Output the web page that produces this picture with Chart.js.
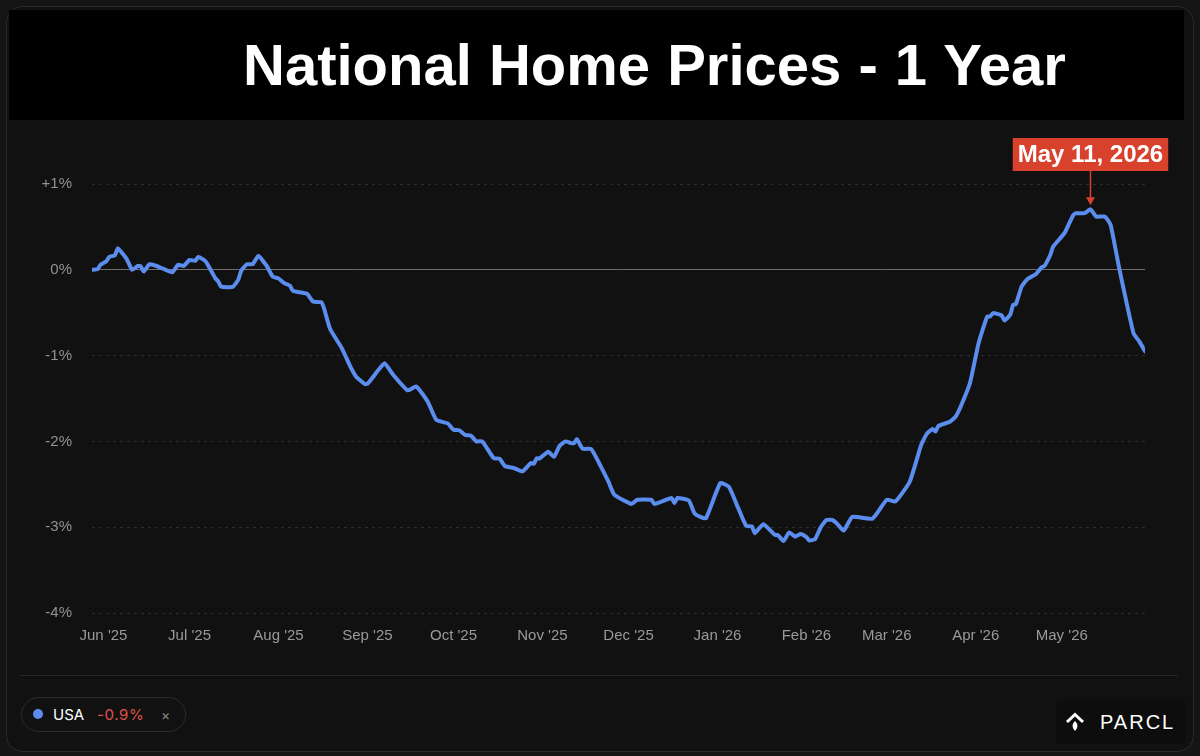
<!DOCTYPE html>
<html lang="en">
<head>
<meta charset="utf-8">
<title>National Home Prices - 1 Year</title>
<script src="https://cdn.jsdelivr.net/npm/chart.js@4.4.1/dist/chart.umd.min.js"></script>
<style>
  html, body { margin: 0; padding: 0; }
  body {
    width: 1200px; height: 756px; position: relative; overflow: hidden;
    background: #151515;
    font-family: "Liberation Sans", Arial, Helvetica, sans-serif;
  }
  #tarjeta {
    position: absolute; left: 6px; top: 6px; width: 1188px; height: 746px;
    box-sizing: border-box; border: 1px solid #2a2a2a; border-radius: 16px;
    background: #111111;
  }
  #banda { position: absolute; left: 9px; top: 10px; width: 1175px; height: 110px; background: #000; }
  #titulo {
    position: absolute; left: 243px; top: 36px; font-size: 58px; font-weight: bold; line-height: 1;
    color: #fff; white-space: nowrap; word-spacing: 1px;
  }
  #grafica { position: absolute; left: 0; top: 120px; width: 1200px; height: 550px; }
  #separador { position: absolute; left: 20px; top: 675px; width: 1158px; height: 1px; background: #262626; }
  #leyenda {
    position: absolute; left: 21px; top: 697px; width: 165px; height: 35px;
    box-sizing: border-box; border: 1px solid #2c2c2c; border-radius: 18px;
    font-family: Inter, "Liberation Sans", Arial, sans-serif; font-size: 15px; color: #fff;
  }
  #leyenda span { position: absolute; top: 7px; }
  #leyenda .punto { left: 11px; top: 11px; width: 10px; height: 10px; border-radius: 50%; background: #5a8ded; }
  #leyenda .nombre { left: 31px; }
  #leyenda .cambio { left: 75px; color: #e0524a; letter-spacing: 0.6px; }
  #leyenda .cerrar { left: 139px; top: 8px; color: #8a8a8a; font-size: 14px; }
  #logo {
    position: absolute; left: 1056px; top: 700px; width: 130px; height: 44px;
    background: #0d0d0d; border-radius: 4px; color: #fff; font-size: 20px; letter-spacing: 2px;
  }
  #logo svg { position: absolute; left: 9px; top: 12px; }
  #logo span { position: absolute; left: 44px; top: 12px; line-height: 1; }
</style>
</head>
<body>
<div id="tarjeta"></div>
<div id="banda"></div>
<div id="titulo">National Home Prices - 1 Year</div>
<div id="grafica"><canvas id="lienzo"></canvas></div>
<div id="separador"></div>
<div id="leyenda">
  <span class="punto"></span><span class="nombre">USA</span><span class="cambio">-0.9%</span><span class="cerrar">×</span>
</div>
<div id="logo">
  <svg width="20" height="20" viewBox="0 0 20 20">
    <polyline points="2,10 10,2.5 18,10" fill="none" stroke="#fff" stroke-width="3"/>
    <path d="M10,9 C13,12 13.5,15 10,19 C6.5,15 7,12 10,9 Z" fill="#fff"/>
  </svg>
  <span>PARCL</span>
</div>

<script>
// === DATOS ===
const fechas = [
  "2025-05-28", "2025-05-30", "2025-05-31", "2025-06-02", "2025-06-03", "2025-06-05", "2025-06-06",
  "2025-06-09", "2025-06-11", "2025-06-13", "2025-06-14", "2025-06-15", "2025-06-17", "2025-06-19",
  "2025-06-22", "2025-06-25", "2025-06-27", "2025-06-29", "2025-07-01", "2025-07-03", "2025-07-04",
  "2025-07-06", "2025-07-07", "2025-07-10", "2025-07-11", "2025-07-12", "2025-07-16", "2025-07-18",
  "2025-07-19", "2025-07-21", "2025-07-23", "2025-07-25", "2025-07-27", "2025-07-28", "2025-07-30",
  "2025-08-01", "2025-08-03", "2025-08-05", "2025-08-06", "2025-08-09", "2025-08-11", "2025-08-13",
  "2025-08-16", "2025-08-17", "2025-08-19", "2025-08-23", "2025-08-26", "2025-08-28", "2025-08-29",
  "2025-08-31", "2025-09-01", "2025-09-05", "2025-09-07", "2025-09-10", "2025-09-15", "2025-09-18",
  "2025-09-22", "2025-09-25", "2025-09-29", "2025-10-01", "2025-10-03", "2025-10-05", "2025-10-07",
  "2025-10-09", "2025-10-11", "2025-10-15", "2025-10-17", "2025-10-19", "2025-10-22", "2025-10-25",
  "2025-10-28", "2025-10-29", "2025-10-30", "2025-10-31", "2025-11-03", "2025-11-05", "2025-11-07",
  "2025-11-09", "2025-11-11", "2025-11-12", "2025-11-13", "2025-11-15", "2025-11-18", "2025-11-21",
  "2025-11-24", "2025-11-26", "2025-12-02", "2025-12-04", "2025-12-09", "2025-12-10", "2025-12-16",
  "2025-12-17", "2025-12-18", "2025-12-22", "2025-12-24", "2025-12-26", "2025-12-28", "2026-01-02",
  "2026-01-05", "2026-01-08", "2026-01-11", "2026-01-13", "2026-01-14", "2026-01-17", "2026-01-21",
  "2026-01-22", "2026-01-24", "2026-01-26", "2026-01-28", "2026-01-30", "2026-02-01", "2026-02-02",
  "2026-02-04", "2026-02-06", "2026-02-08", "2026-02-10", "2026-02-12", "2026-02-14", "2026-02-17",
  "2026-02-24", "2026-03-01", "2026-03-04", "2026-03-09", "2026-03-13", "2026-03-15", "2026-03-17",
  "2026-03-18", "2026-03-19", "2026-03-23", "2026-03-25", "2026-03-27", "2026-03-30", "2026-04-02",
  "2026-04-05", "2026-04-06", "2026-04-07", "2026-04-10", "2026-04-11", "2026-04-13", "2026-04-14",
  "2026-04-15", "2026-04-17", "2026-04-19", "2026-04-22", "2026-04-24", "2026-04-25", "2026-04-27",
  "2026-04-28", "2026-05-02", "2026-05-05", "2026-05-06", "2026-05-09", "2026-05-11", "2026-05-13",
  "2026-05-16", "2026-05-18", "2026-05-21", "2026-05-26", "2026-05-28", "2026-05-30"
];

const valores = [
  0.00, 0.01, 0.06, 0.10, 0.15, 0.17, 0.25,
  0.13, 0.00, 0.045, 0.04, -0.02, 0.065, 0.05,
  0.01, -0.03, 0.06, 0.045, 0.115, 0.105, 0.15,
  0.115, 0.08, -0.10, -0.135, -0.195, -0.20, -0.115,
  -0.01, 0.065, 0.065, 0.165, 0.085, 0.04, -0.08,
  -0.10, -0.155, -0.185, -0.245, -0.265, -0.28, -0.37,
  -0.38, -0.465, -0.69, -0.91, -1.125, -1.245, -1.275,
  -1.33, -1.33, -1.16, -1.09, -1.225, -1.405, -1.36,
  -1.535, -1.75, -1.79, -1.865, -1.87, -1.925, -1.93,
  -2.00, -2.00, -2.195, -2.20, -2.29, -2.31, -2.35,
  -2.25, -2.26, -2.195, -2.20, -2.12, -2.18, -2.05,
  -2.00, -2.02, -2.02, -1.975, -2.085, -2.09, -2.27,
  -2.47, -2.62, -2.73, -2.68, -2.68, -2.73, -2.66,
  -2.72, -2.66, -2.69, -2.84, -2.88, -2.895, -2.485,
  -2.53, -2.76, -2.985, -2.99, -3.07, -2.965, -3.09,
  -3.09, -3.16, -3.06, -3.11, -3.08, -3.115, -3.155,
  -3.14, -3.00, -2.915, -2.915, -2.97, -3.04, -2.88,
  -2.90, -2.68, -2.70, -2.47, -2.04, -1.91, -1.855,
  -1.885, -1.82, -1.77, -1.71, -1.575, -1.32, -0.855,
  -0.545, -0.545, -0.505, -0.53, -0.59, -0.525, -0.41,
  -0.40, -0.195, -0.11, -0.05, 0.03, 0.045, 0.175,
  0.27, 0.43, 0.64, 0.66, 0.66, 0.705, 0.62,
  0.62, 0.525, 0.02, -0.74, -0.835, -0.95
];

const fechasMes = [
  "2025-06-01", "2025-07-01", "2025-08-01", "2025-09-01", "2025-10-01", "2025-11-01",
  "2025-12-01", "2026-01-01", "2026-02-01", "2026-03-01", "2026-04-01", "2026-05-01"
];
const etiquetasMes = [
  "Jun '25", "Jul '25", "Aug '25", "Sep '25", "Oct '25", "Nov '25",
  "Dec '25", "Jan '26", "Feb '26", "Mar '26", "Apr '26", "May '26"
];

const fechaInicio = "2025-05-28";
const fechaFin = "2026-05-30";
const fechaMarcada = "2026-05-11";
const textoMarcado = "May 11, 2026";

// fecha "AAAA-MM-DD" -> numero de dia
function dia(f) {
  const [a, m, d] = f.split("-").map(Number);
  return Date.UTC(a, m - 1, d) / 86400000;
}

const puntos = fechas.map((f, i) => ({ x: dia(f), y: valores[i] }));

// === ETIQUETA DE LA FECHA MARCADA ===
const marcaPlugin = {
  id: "marca",
  afterDatasetsDraw(chart) {
    const ctx = chart.ctx;
    const i = fechas.indexOf(fechaMarcada);
    const px = chart.scales.x.getPixelForValue(dia(fechaMarcada));
    const py = chart.scales.y.getPixelForValue(valores[i]);

    ctx.save();
    ctx.font = 'bold 24px "Liberation Sans", Arial, sans-serif';
    const ancho = ctx.measureText(textoMarcado).width + 10;
    const alto = 33;
    const arriba = chart.chartArea.top - 46;

    ctx.fillStyle = "#d8412c";
    ctx.fillRect(px - ancho / 2, arriba, ancho, alto);
    ctx.fillStyle = "#fff";
    ctx.textAlign = "center";
    ctx.textBaseline = "middle";
    ctx.fillText(textoMarcado, px, arriba + alto / 2 + 1);

    // flecha
    ctx.strokeStyle = "#d8412c";
    ctx.fillStyle = "#d8412c";
    ctx.lineWidth = 1.5;
    ctx.beginPath();
    ctx.moveTo(px, arriba + alto);
    ctx.lineTo(px, py - 9);
    ctx.stroke();
    ctx.beginPath();
    ctx.moveTo(px - 4.5, py - 12);
    ctx.lineTo(px, py - 4);
    ctx.lineTo(px + 4.5, py - 12);
    ctx.closePath();
    ctx.fill();
    ctx.restore();
  }
};

// === GRAFICA ===
Chart.defaults.font.family = '"Liberation Sans", Arial, Helvetica, sans-serif';

new Chart(document.getElementById("lienzo"), {
  type: "line",
  data: {
    datasets: [{
      label: "USA",
      data: puntos,
      borderColor: "#5a8ded",
      borderWidth: 4,
      borderJoinStyle: "round",
      borderCapStyle: "round",
      pointRadius: 0,
      tension: 0.15,
      fill: false
    }]
  },
  options: {
    responsive: true,
    maintainAspectRatio: false,
    animation: false,
    layout: { padding: { left: 0, right: 55, top: 64, bottom: 0 } },
    plugins: { legend: { display: false }, tooltip: { enabled: false } },
    scales: {
      x: {
        type: "linear",
        min: dia(fechaInicio),
        max: dia(fechaFin),
        afterBuildTicks: (s) => { s.ticks = fechasMes.map(f => ({ value: dia(f) })); },
        afterFit: (s) => { s.height = 57; },
        ticks: {
          callback: (v, i) => etiquetasMes[i],
          color: "#9a9a9a",
          font: { size: 15 },
          padding: 14,
          maxRotation: 0,
          autoSkip: false
        },
        grid: { display: false, drawTicks: false },
        border: { display: false }
      },
      y: {
        min: -4,
        max: 1,
        afterFit: (s) => { s.width = 92; },
        ticks: {
          stepSize: 1,
          callback: (v) => (v > 0 ? "+" : "") + v + "%",
          color: "#929292",
          font: { size: 15 },
          padding: 20
        },
        grid: {
          color: (c) => (c.tick && c.tick.value === 0 ? "#6e6e6e" : "#2c2c2c"),
          lineWidth: 1,
          drawTicks: false
        },
        border: {
          display: false,
          dash: (c) => (c.tick && c.tick.value === 0 ? [] : [3, 4])
        }
      }
    }
  },
  plugins: [marcaPlugin]
});
</script>
</body>
</html>
